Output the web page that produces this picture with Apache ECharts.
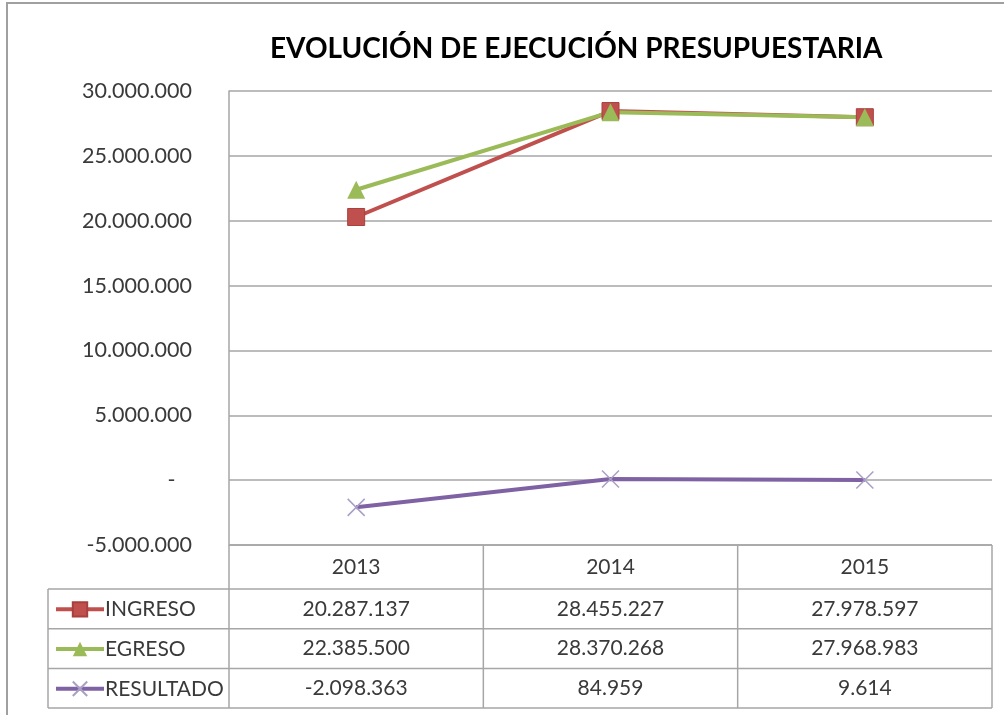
<!DOCTYPE html>
<html>
<head>
<meta charset="utf-8">
<script src="https://cdn.jsdelivr.net/npm/echarts@6/dist/echarts.min.js"></script>
<style>
  html, body { margin: 0; padding: 0; background: #fff; }
  #chart { width: 1004px; height: 715px; }
</style>
</head>
<body>
<div id="chart"></div>
<script>
var years = ['2013', '2014', '2015'];
var seriesNames = ['INGRESO', 'EGRESO', 'RESULTADO'];
var ingreso = [20287137, 28455227, 27978597];
var egreso = [22385500, 28370268, 27968983];
var resultado = [-2098363, 84959, 9614];
var yMin = -5000000, yMax = 30000000, yStep = 5000000;

var FONT = 'Lato';
var TEXT = '#3a3a3a';
var GRID = '#a6a6a6';

// formato con punto de miles
function fmt(v) {
    var s = Math.abs(v).toString().replace(/\B(?=(\d{3})+(?!\d))/g, '.');
    return (v < 0 ? '-' : '') + s;
}
function fmtAxis(v) {
    if (v === 0) return '-   ';
    return fmt(v);
}

var chart = echarts.init(document.getElementById('chart'));

var headerH = 44, rowH = 39.7, tableLeft = 48;

var option = {
    backgroundColor: '#fff',
    animation: false,
    title: {
        text: 'EVOLUCIÓN DE EJECUCIÓN PRESUPUESTARIA',
        left: 265, top: 30,
        textStyle: { fontFamily: FONT, fontWeight: 'bold', fontSize: 28, color: '#000' }
    },
    grid: { left: 229, top: 91, right: 12, bottom: 170 },
    xAxis: {
        type: 'category', data: years, boundaryGap: true,
        axisLine: { show: false }, axisTick: { show: false }, axisLabel: { show: false }
    },
    yAxis: {
        type: 'value', min: yMin, max: yMax, interval: yStep,
        axisLine: { show: true, lineStyle: { color: GRID, width: 1.5 } },
        axisTick: { show: false },
        splitLine: { lineStyle: { color: GRID, width: 1.5 } },
        axisLabel: { formatter: fmtAxis, margin: 37, fontFamily: FONT, fontSize: 21.5, color: TEXT }
    },
    legend: seriesNames.map(function (name, i) {
        return {
            data: [name],
            left: 54,
            top: 545 + headerH + rowH * i + rowH / 2 - 10,
            padding: 0,
            itemWidth: 48, itemHeight: 18,
            selectedMode: false,
            lineStyle: { width: 4 },
            textStyle: { fontFamily: FONT, fontSize: 21, color: TEXT, padding: [0, 0, 0, -4] }
        };
    }),
    series: [
        {
            name: 'INGRESO', type: 'line', data: ingreso,
            symbol: 'rect', symbolSize: 17,
            lineStyle: { color: '#c0504d', width: 4 },
            itemStyle: { color: '#c0504d', borderColor: '#a8403d', borderWidth: 1 }
        },
        {
            name: 'EGRESO', type: 'line', data: egreso,
            symbol: 'triangle', symbolSize: 18,
            lineStyle: { color: '#9bbb59', width: 4 },
            itemStyle: { color: '#9bbb59' }
        },
        {
            name: 'RESULTADO', type: 'line', data: resultado,
            symbol: 'path://M0,0L10,10M10,0L0,10', symbolSize: 17,
            lineStyle: { color: '#7e62a3', width: 4 },
            itemStyle: { color: 'transparent', borderColor: '#a99fc6', borderWidth: 1.5 }
        }
    ]
};
chart.setOption(option);

// tabla de datos bajo el grafico
function buildTable() {
    var tableTop = chart.convertToPixel({ yAxisIndex: 0 }, yMin);
    var centers = years.map(function (y) { return chart.convertToPixel({ xAxisIndex: 0 }, y); });
    var band = centers[1] - centers[0];
    var x0 = centers[0] - band / 2;
    var x1 = centers[centers.length - 1] + band / 2;
    var yRows = [tableTop + headerH];
    for (var i = 1; i <= seriesNames.length; i++) yRows.push(tableTop + headerH + rowH * i);
    var yBottom = yRows[yRows.length - 1];

    var lineStyle = { stroke: GRID, lineWidth: 1.5 };
    var els = [];
    // borde exterior
    els.push({ type: 'rect', shape: { x: 7, y: 3, width: 1010, height: 730 },
        style: { fill: 'none', stroke: '#a0a0a0', lineWidth: 2 }, silent: true });
    // lineas horizontales
    yRows.forEach(function (y) {
        els.push({ type: 'line', shape: { x1: tableLeft, y1: y, x2: x1, y2: y }, style: lineStyle });
    });
    els.push({ type: 'line', shape: { x1: x0, y1: tableTop, x2: x1, y2: tableTop }, style: lineStyle });
    // lineas verticales
    els.push({ type: 'line', shape: { x1: tableLeft, y1: yRows[0], x2: tableLeft, y2: yBottom }, style: lineStyle });
    for (var k = 0; k <= years.length; k++) {
        var x = x0 + band * k;
        els.push({ type: 'line', shape: { x1: x, y1: tableTop, x2: x, y2: yBottom }, style: lineStyle });
    }
    // textos
    var rows = [ingreso, egreso, resultado];
    years.forEach(function (yr, c) {
        els.push({ type: 'text', x: centers[c], y: tableTop + headerH / 2,
            style: { text: yr, font: '21px ' + FONT, fill: TEXT, align: 'center', verticalAlign: 'middle' } });
        rows.forEach(function (arr, r) {
            els.push({ type: 'text', x: centers[c], y: yRows[r] + rowH / 2,
                style: { text: fmt(arr[c]), font: '21px ' + FONT, fill: TEXT, align: 'center', verticalAlign: 'middle' } });
        });
    });
    chart.setOption({ graphic: els });
}
buildTable();
</script>
</body>
</html>
